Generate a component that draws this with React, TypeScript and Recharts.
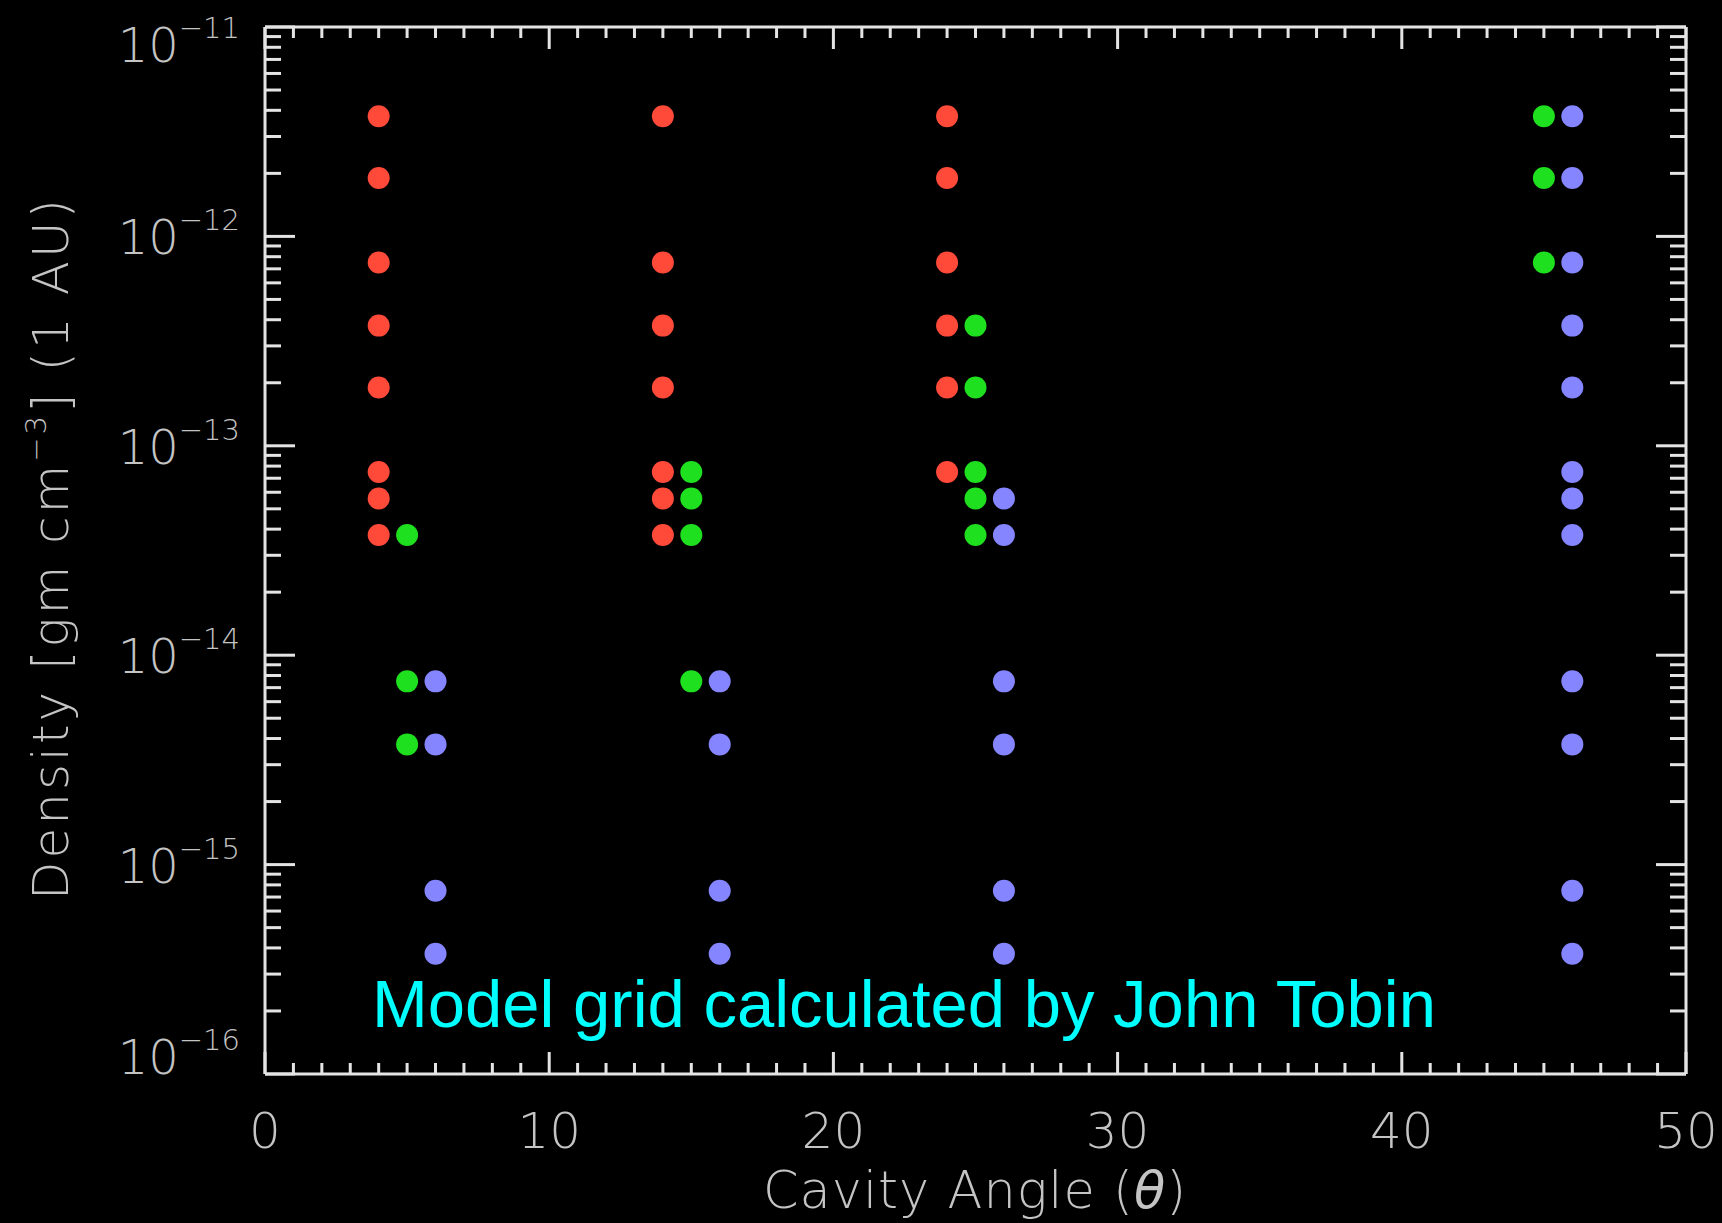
import { ScatterChart, Scatter, XAxis, YAxis } from "recharts";

const W = 1722;
const H = 1223;
// plot frame in page pixels
const PLOT_TOP = 27;
const PLOT_BOTTOM = 1074;

const AXIS = "#e4e4e4";
const TEXT = "#c4c4c4";
const FONT = "'DejaVu Sans', 'Liberation Sans', sans-serif";

const X_MAJOR = [0, 10, 20, 30, 40, 50];
const Y_DECADES = [-16, -15, -14, -13, -12, -11];

// red series (theta = 4, 14, 24)
const RED_4 = [3.75e-12, 1.9e-12, 7.5e-13, 3.75e-13, 1.9e-13, 7.5e-14, 5.6e-14, 3.75e-14];
const RED_14 = [3.75e-12, 7.5e-13, 3.75e-13, 1.9e-13, 7.5e-14, 5.6e-14, 3.75e-14];
const RED_24 = [3.75e-12, 1.9e-12, 7.5e-13, 3.75e-13, 1.9e-13, 7.5e-14];

// green series (theta = 5, 15, 25, 45)
const GREEN_5 = [3.75e-14, 7.5e-15, 3.75e-15];
const GREEN_15 = [7.5e-14, 5.6e-14, 3.75e-14, 7.5e-15];
const GREEN_25 = [3.75e-13, 1.9e-13, 7.5e-14, 5.6e-14, 3.75e-14];
const GREEN_45 = [3.75e-12, 1.9e-12, 7.5e-13];

// blue series (theta = 6, 16, 26, 46)
const BLUE_6 = [7.5e-15, 3.75e-15, 7.5e-16, 3.75e-16];
const BLUE_16 = [7.5e-15, 3.75e-15, 7.5e-16, 3.75e-16];
const BLUE_26 = [5.6e-14, 3.75e-14, 7.5e-15, 3.75e-15, 7.5e-16, 3.75e-16];
const BLUE_46 = [
  3.75e-12, 1.9e-12, 7.5e-13, 3.75e-13, 1.9e-13, 7.5e-14, 5.6e-14, 3.75e-14,
  7.5e-15, 3.75e-15, 7.5e-16, 3.75e-16,
];

const col = (theta: number, vals: number[]) => vals.map((density) => ({ theta, density }));

const red = [...col(4, RED_4), ...col(14, RED_14), ...col(24, RED_24)];
const green = [...col(5, GREEN_5), ...col(15, GREEN_15), ...col(25, GREEN_25), ...col(45, GREEN_45)];
const blue = [...col(6, BLUE_6), ...col(16, BLUE_16), ...col(26, BLUE_26), ...col(46, BLUE_46)];

const xTicks: number[] = [];
for (let i = X_MAJOR[0]; i <= X_MAJOR[X_MAJOR.length - 1]; i++) xTicks.push(i);

const yTicks: number[] = [];
Y_DECADES.forEach((e, i) => {
  yTicks.push(Math.pow(10, e));
  if (i < Y_DECADES.length - 1) for (let k = 2; k <= 9; k++) yTicks.push(k * Math.pow(10, e));
});

function isDecade(v: number) {
  const lg = Math.log10(v);
  return Math.abs(lg - Math.round(lg)) < 1e-6;
}

function BottomTick({ x, y, payload }: any) {
  const v = payload.value;
  const major = v % 10 === 0;
  return (
    <g>
      <line x1={x} x2={x} y1={y} y2={y - (major ? 22 : 11)} stroke={AXIS} strokeWidth={3} />
      {major && (
        <text x={x} y={y + 74} textAnchor="middle" fill={TEXT} fontSize={50} fontFamily={FONT} fontWeight={200}>
          {v}
        </text>
      )}
    </g>
  );
}

function TopTick({ x, y, payload }: any) {
  const major = payload.value % 10 === 0;
  return <line x1={x} x2={x} y1={y} y2={y + (major ? 22 : 11)} stroke={AXIS} strokeWidth={3} />;
}

function LeftTick({ x, y, payload }: any) {
  const v = payload.value;
  const major = isDecade(v);
  const base = Math.min(Math.max(y + 18, PLOT_TOP + 35), PLOT_BOTTOM);
  return (
    <g>
      <line x1={x} x2={x + (major ? 30 : 16)} y1={y} y2={y} stroke={AXIS} strokeWidth={3} />
      {major && (
        <text x={x - 25} y={base} textAnchor="end" fill={TEXT} fontFamily={FONT} fontWeight={200} fontSize={48}>
          10
          <tspan dy={-24} fontSize={29}>
            {"\u2212" + Math.abs(Math.round(Math.log10(v)))}
          </tspan>
        </text>
      )}
    </g>
  );
}

function RightTick({ x, y, payload }: any) {
  const major = isDecade(payload.value);
  return <line x1={x} x2={x - (major ? 30 : 16)} y1={y} y2={y} stroke={AXIS} strokeWidth={3} />;
}

const dot = (color: string) => (p: any) => <circle cx={p.cx} cy={p.cy} r={11} fill={color} />;

export default function App() {
  return (
    <div style={{ position: "absolute", left: 0, top: 0, width: W, height: H, background: "#000" }}>
      <ScatterChart width={W} height={H} margin={{ top: 26, right: 35, bottom: 0, left: 0 }}>
        <XAxis
          xAxisId="b"
          dataKey="theta"
          type="number"
          domain={[0, 50]}
          ticks={xTicks}
          interval={0}
          height={149}
          tickSize={0}
          tickMargin={0}
          tickLine={false}
          axisLine={{ stroke: AXIS, strokeWidth: 3 }}
          tick={<BottomTick />}
          allowDataOverflow
        />
        <XAxis
          xAxisId="t"
          orientation="top"
          dataKey="theta"
          type="number"
          domain={[0, 50]}
          ticks={xTicks}
          interval={0}
          height={1}
          tickSize={0}
          tickMargin={0}
          tickLine={false}
          axisLine={{ stroke: AXIS, strokeWidth: 3 }}
          tick={<TopTick />}
          allowDataOverflow
        />
        <YAxis
          yAxisId="l"
          dataKey="density"
          type="number"
          scale="log"
          domain={[1e-16, 1e-11]}
          ticks={yTicks}
          interval={0}
          width={265}
          tickSize={0}
          tickMargin={0}
          tickLine={false}
          axisLine={{ stroke: AXIS, strokeWidth: 3 }}
          tick={<LeftTick />}
          allowDataOverflow
        />
        <YAxis
          yAxisId="r"
          orientation="right"
          dataKey="density"
          type="number"
          scale="log"
          domain={[1e-16, 1e-11]}
          ticks={yTicks}
          interval={0}
          width={1}
          tickSize={0}
          tickMargin={0}
          tickLine={false}
          axisLine={{ stroke: AXIS, strokeWidth: 3 }}
          tick={<RightTick />}
          allowDataOverflow
        />
        <Scatter data={red} xAxisId="b" yAxisId="l" fill="#ff4a3a" shape={dot("#ff4a3a")} isAnimationActive={false} />
        <Scatter data={green} xAxisId="b" yAxisId="l" fill="#1fe01f" shape={dot("#1fe01f")} isAnimationActive={false} />
        <Scatter data={blue} xAxisId="b" yAxisId="l" fill="#8585ff" shape={dot("#8585ff")} isAnimationActive={false} />

        {/* axis titles */}
        <text x={975} y={1208} textAnchor="middle" fill={TEXT} fontSize={51} fontFamily={FONT} fontWeight={200} letterSpacing={1}>
          Cavity Angle (<tspan fontStyle="italic">θ</tspan>)
        </text>
        <text
          x={68}
          y={548}
          transform="rotate(-90, 68, 548)"
          textAnchor="middle"
          fill={TEXT}
          fontSize={50}
          fontFamily={FONT}
          fontWeight={200}
          letterSpacing={3}
        >
          Density [gm cm
          <tspan dy={-22} fontSize={29}>
            {"\u22123"}
          </tspan>
          <tspan dy={22}>] (1 AU)</tspan>
        </text>

        <text x={372} y={1027} fill="#00ffff" fontSize={67} fontFamily="'Liberation Sans', Arial, sans-serif">
          Model grid calculated by John Tobin
        </text>
      </ScatterChart>
    </div>
  );
}
